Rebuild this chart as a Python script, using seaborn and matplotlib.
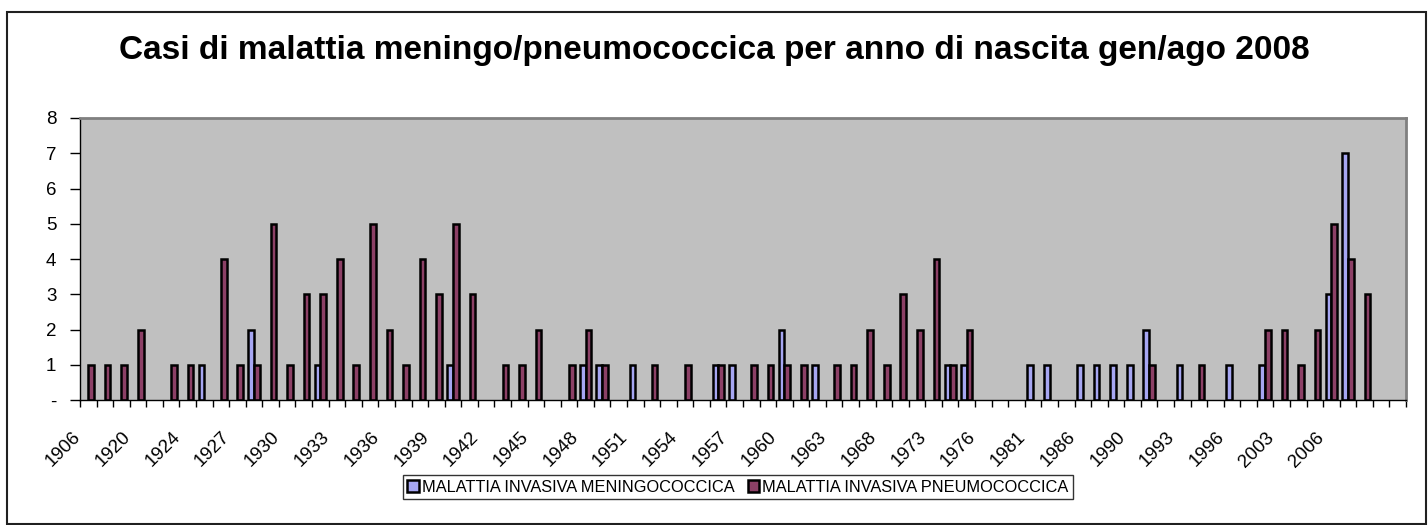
import numpy as np
import pandas as pd
import matplotlib
matplotlib.use('Agg')
import matplotlib.pyplot as plt
import matplotlib.transforms as mtransforms
from matplotlib.patches import Rectangle
import seaborn as sns

# Anni di nascita (categorie dell'asse x, etichetta ogni 3)
anni = [
    "1906", "1913", "1918", "1920", "1922", "1923", "1924", "1925", "1926", "1927",
    "1928", "1929", "1930", "1931", "1932", "1933", "1934", "1935", "1936", "1937",
    "1938", "1939", "1940", "1941", "1942", "1943", "1944", "1945", "1946", "1947",
    "1948", "1949", "1950", "1951", "1952", "1953", "1954", "1955", "1956", "1957",
    "1958", "1959", "1960", "1961", "1962", "1963", "1964", "1966", "1968", "1970",
    "1972", "1973", "1974", "1975", "1976", "1978", "1980", "1981", "1983", "1984",
    "1986", "1987", "1989", "1990", "1991", "1992", "1993", "1994", "1995", "1996",
    "1999", "2002", "2003", "2004", "2005", "2006", "2007", "2008", "", "",
]

meningo = [
    0, 0, 0, 0, 0, 0, 0, 1, 0, 0,
    2, 0, 0, 0, 1, 0, 0, 0, 0, 0,
    0, 0, 1, 0, 0, 0, 0, 0, 0, 0,
    1, 1, 0, 1, 0, 0, 0, 0, 1, 1,
    0, 0, 2, 0, 1, 0, 0, 0, 0, 0,
    0, 0, 1, 1, 0, 0, 0, 1, 1, 0,
    1, 1, 1, 1, 2, 0, 1, 0, 0, 1,
    0, 1, 0, 0, 0, 3, 7, 0, 0, 0,
]

pneumo = [
    1, 1, 1, 2, 0, 1, 1, 0, 4, 1,
    1, 5, 1, 3, 3, 4, 1, 5, 2, 1,
    4, 3, 5, 3, 0, 1, 1, 2, 0, 1,
    2, 1, 0, 0, 1, 0, 1, 0, 1, 0,
    1, 1, 1, 1, 0, 1, 1, 2, 1, 3,
    2, 4, 1, 2, 0, 0, 0, 0, 0, 0,
    0, 0, 0, 0, 1, 0, 0, 1, 0, 0,
    0, 2, 2, 1, 2, 5, 4, 3, 0, 0,
]

serie = ["MALATTIA INVASIVA MENINGOCOCCICA", "MALATTIA INVASIVA PNEUMOCOCCICA"]
colori = ["#9999FF", "#993366"]
titolo = "Casi di malattia meningo/pneumococcica per anno di nascita gen/ago 2008"

n = len(anni)
df = pd.DataFrame({
    'pos': list(range(n)) * 2,
    'casi': meningo + pneumo,
    'serie': [serie[0]] * n + [serie[1]] * n,
})
# Excel non disegna le barre a zero
df['casi'] = df['casi'].replace(0, np.nan)

sns.set_style('white')
plt.rcParams['font.family'] = ['Liberation Sans', 'DejaVu Sans']
plt.rcParams['text.color'] = 'black'
plt.rcParams['xtick.color'] = 'black'
plt.rcParams['ytick.color'] = 'black'

W, H = 1428, 525
fig = plt.figure(figsize=(W / 100, H / 100), dpi=100)
ax = fig.add_axes([80 / W, (H - 400) / H, (1406 - 80) / W, (400 - 118) / H])

sns.barplot(data=df, x='pos', y='casi', hue='serie', hue_order=serie,
            order=list(range(n)), palette=colori, width=0.68,
            edgecolor='black', linewidth=1.8, errorbar=None, ax=ax)

ax.set_facecolor('#C0C0C0')
ax.set_xlim(-0.5, n - 0.5)
ax.set_ylim(0, 8)
ax.set_xlabel('')
ax.set_ylabel('')

# asse y
ax.set_yticks(range(0, 9))
ax.set_yticklabels(['-'] + [str(i) for i in range(1, 9)])
ax.tick_params(axis='y', left=True, length=7, width=1, direction='out',
               pad=10, labelsize=13.5, colors='black')

# asse x: tacche ai confini delle categorie, etichette ogni 3
ax.set_xticks(np.arange(-0.5, n, 1), minor=True)
ax.set_xticks(range(0, n, 3))
ax.set_xticklabels(anni[::3], rotation=45, ha='right', va='center',
                   rotation_mode='anchor')
ax.tick_params(axis='x', which='major', bottom=True, length=0, pad=25,
               labelsize=13.5, labelcolor='black')
ax.tick_params(axis='x', which='minor', bottom=True, length=5, width=1,
               direction='out', color='black')
shift = mtransforms.ScaledTranslation(-10 / 100, 0, fig.dpi_scale_trans)
for lab in ax.get_xticklabels():
    lab.set_transform(lab.get_transform() + shift)

for side in ['left', 'bottom']:
    ax.spines[side].set_color('black')
    ax.spines[side].set_linewidth(1)
for side in ['top', 'right']:
    ax.spines[side].set_color('#808080')
    ax.spines[side].set_linewidth(2)

fig.text(0.5, (H - 50) / H, titolo, ha='center', va='center',
         fontsize=24, fontweight='bold', color='black')

handles, labels = ax.get_legend_handles_labels()
ax.get_legend().remove()
leg = fig.legend(handles, labels, loc='center', bbox_to_anchor=(738 / W, (H - 487) / H),
                 ncol=2, fontsize=11.8, frameon=True, fancybox=False,
                 edgecolor='black', handlelength=0.7, handleheight=0.7,
                 handletextpad=0.2, columnspacing=0.8, borderpad=0.25,
                 labelcolor='black')
leg.get_frame().set_linewidth(1)

# bordo esterno del grafico
fig.patches.append(Rectangle((7 / W, 1 / H), 1419 / W, 512 / H, transform=fig.transFigure,
                             fill=False, edgecolor='#202020', linewidth=1.5))

fig.savefig('out.png', dpi=100)
